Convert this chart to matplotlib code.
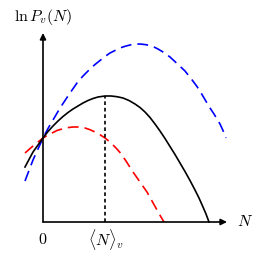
"""
Schematic of ln P_v(N) curves: reference (solid) with two shifted
versions (dashed), all crossing on the vertical axis.
Writes out.png (256x256).
"""

import matplotlib as mpl
import matplotlib.pyplot as plt

mpl.rcParams.update({
    "mathtext.fontset": "cm",
    "font.family": "serif",
    "font.serif": ["DejaVu Serif"],
})

# ── curve data (arbitrary units) ─────────────────────────────────────────────
black_x = [-18, -14, -10, -5, 0, 5, 10, 15, 20, 25, 30, 35, 40, 45, 50, 55, 62,
           68, 74, 80, 86, 92, 97, 102, 107, 112, 117, 122, 127, 132, 137, 142,
           147, 152, 156, 160, 163, 166]
black_y = [55, 62.5, 70, 77, 84, 90.5, 96, 101, 105.5, 109.5, 113, 116, 119,
           121.5, 123.5, 125, 126, 126, 125.3, 124, 121.5, 118, 114.5, 110,
           104.5, 98, 91, 83.5, 75.5, 67.5, 59, 50.5, 41.5, 32, 24, 15, 8, 0]

blue_x = [-18, -14, -10, -5, 0, 5, 10, 15, 20, 27, 34, 40, 47, 52, 57, 62, 67,
          72, 77, 82, 87, 92, 97, 103, 110, 115, 120, 127, 134, 142, 148, 154,
          159, 164, 168, 171, 174, 177, 180, 183]
blue_y = [41, 51.5, 62, 73, 84, 93.5, 102, 110.5, 118.5, 129, 139, 146, 153,
          157.5, 161.5, 165.5, 169, 171.5, 174, 175.7, 177, 177.8, 178, 177.3,
          175.5, 173, 170, 165, 158.5, 151, 143.5, 135.5, 127.5, 119, 112.5,
          108, 103, 98, 91.5, 84]

red_x = [-18, -14, -10, -5, 0, 5, 9, 14, 19, 24, 30, 36, 42, 47, 52, 57, 62,
         66, 69, 73, 77, 83, 90, 97, 104, 109, 114, 118, 121]
red_y = [69, 72.5, 76, 80, 84, 87, 89, 91.5, 93, 94.3, 95, 95, 94, 92.3, 90,
         87.3, 84, 80.8, 78, 74, 69.5, 61, 50, 40, 30, 21, 12, 5, 0]

peak_x = 62      # <N>_v
peak_y = 126

x_axis_end = 184
y_axis_end = 189

label_y = r"$\ln P_v(N)$"
label_x = r"$N$"
tick_zero = r"$0$"
tick_mean = r"$\langle N\rangle_v$"


def main():
    fig = plt.figure(figsize=(2.56, 2.56), dpi=100)
    ax = fig.add_axes([0, 0, 1, 1])
    ax.set_xlim(-43, 213)
    ax.set_ylim(-34, 222)
    ax.axis("off")

    # axes with arrow heads
    arrow = dict(arrowstyle="-|>", lw=1.2, color="black", mutation_scale=9,
                 shrinkA=0, shrinkB=0)
    ax.annotate("", xy=(x_axis_end, 0), xytext=(0, 0), arrowprops=arrow)
    ax.annotate("", xy=(0, y_axis_end), xytext=(0, 0), arrowprops=arrow)

    ax.plot(blue_x, blue_y, color="#0000ff", lw=1.2, linestyle=(0, (6.5, 3.6)),
            dash_capstyle="butt")
    ax.plot(red_x, red_y, color="#ff0000", lw=1.2, linestyle=(0, (6.5, 3.6)),
            dash_capstyle="butt")
    ax.plot(black_x, black_y, color="black", lw=1.2)

    # dotted drop line at the maximum
    ax.plot([peak_x, peak_x], [0, peak_y], color="black", lw=1.2,
            linestyle=(0, (2.2, 1.7)), dash_capstyle="butt")

    ax.text(0, 205, label_y, fontsize=11.5, ha="center", va="center")
    ax.text(202, 1, label_x, fontsize=11.5, ha="center", va="center")
    ax.text(0, -17, tick_zero, fontsize=11.5, ha="center", va="center")
    ax.text(63, -17, tick_mean, fontsize=11.5, ha="center", va="center")

    fig.savefig("out.png", dpi=100)
    plt.close(fig)


if __name__ == "__main__":
    main()
